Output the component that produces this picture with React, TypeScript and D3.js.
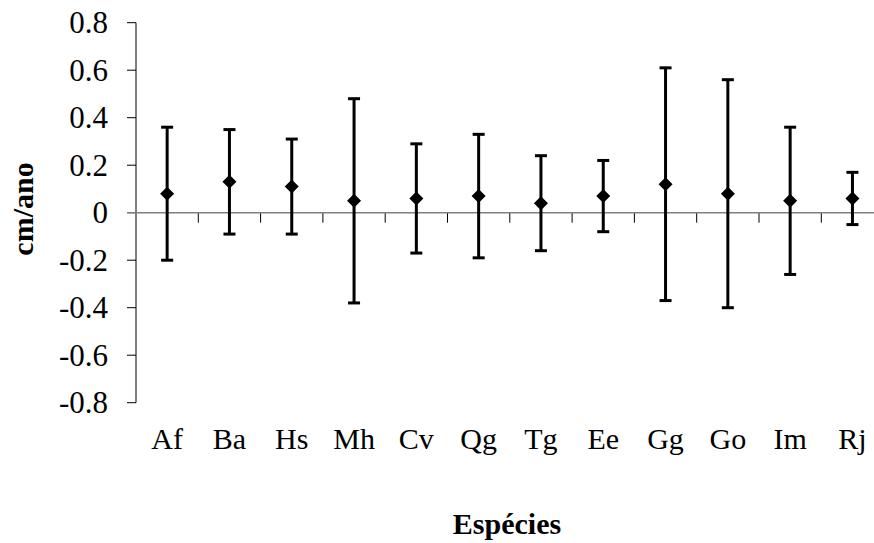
import React from "react";
import * as d3 from "d3";

const width = 874;
const height = 543;

// species and growth (cm/ano): mean and the error bar half-length
const species = ["Af", "Ba", "Hs", "Mh", "Cv", "Qg", "Tg", "Ee", "Gg", "Go", "Im", "Rj"];
const means = [0.08, 0.13, 0.11, 0.05, 0.06, 0.07, 0.04, 0.07, 0.12, 0.08, 0.05, 0.06];
const errors = [0.28, 0.22, 0.2, 0.43, 0.23, 0.26, 0.2, 0.15, 0.49, 0.48, 0.31, 0.11];

const yTicks = [-0.8, -0.6, -0.4, -0.2, 0, 0.2, 0.4, 0.6, 0.8];
const yTickLabels = ["-0.8", "-0.6", "-0.4", "-0.2", "0", "0.2", "0.4", "0.6", "0.8"];

const plot = { left: 136, top: 22.7, bottom: 402.7, step: 62.3 };
const font = "'Liberation Serif', 'Times New Roman', serif";

const App = () => {
  const x = d3
    .scaleBand<string>()
    .domain(species)
    .range([plot.left, plot.left + plot.step * species.length])
    .paddingInner(0)
    .paddingOuter(0);

  const y = d3.scaleLinear().domain([-0.8, 0.8]).range([plot.bottom, plot.top]);

  const diamond = d3.symbol().type(d3.symbolSquare).size(98)();
  const x0 = plot.left;
  const x1 = plot.left + plot.step * species.length;
  const boundaries = d3.range(1, species.length).map(i => plot.left + i * x.step());

  return (
    <svg
      width={width}
      height={height}
      style={{ position: "absolute", left: 0, top: 0, background: "#fff" }}
      fontFamily={font}
    >
      {/* y axis */}
      <line x1={x0} x2={x0} y1={y(0.8)} y2={y(-0.8)} stroke="#000" strokeWidth={1} />
      {yTicks.map((t, i) => (
        <g key={t}>
          <line x1={x0 - 9} x2={x0} y1={y(t)} y2={y(t)} stroke="#000" strokeWidth={1} />
          <text
            x={108}
            y={y(t)}
            dy="0.34em"
            textAnchor="end"
            fontSize={31}
            fill="#000"
          >
            {yTickLabels[i]}
          </text>
        </g>
      ))}

      {/* x axis on zero */}
      {boundaries.map(b => (
        <line key={b} x1={b} x2={b} y1={y(0)} y2={y(0) + 10} stroke="#000" strokeWidth={1} />
      ))}
      <line x1={x0 - 9} x2={x1} y1={y(0)} y2={y(0)} stroke="#808080" strokeWidth={1.5} />

      {/* error bars and means */}
      {species.map((s, i) => {
        const cx = (x(s) as number) + x.bandwidth() / 2;
        const top = y(means[i] + errors[i]);
        const bot = y(means[i] - errors[i]);
        return (
          <g key={s}>
            <line x1={cx} x2={cx} y1={top} y2={bot} stroke="#000" strokeWidth={3} />
            <line x1={cx - 6} x2={cx + 6} y1={top} y2={top} stroke="#000" strokeWidth={3} />
            <line x1={cx - 6} x2={cx + 6} y1={bot} y2={bot} stroke="#000" strokeWidth={3} />
            <path d={diamond as string} transform={`translate(${cx},${y(means[i])}) rotate(45)`} fill="#000" />
            <text x={cx} y={449} textAnchor="middle" fontSize={30} fill="#000">
              {s}
            </text>
          </g>
        );
      })}

      {/* titles */}
      <text x={507} y={534} textAnchor="middle" fontSize={30} fontWeight="bold" fill="#000">
        Espécies
      </text>
      <text
        transform="translate(33,209) rotate(-90)"
        textAnchor="middle"
        fontSize={30}
        fontWeight="bold"
        fill="#000"
      >
        cm/ano
      </text>
    </svg>
  );
};

export default App;
